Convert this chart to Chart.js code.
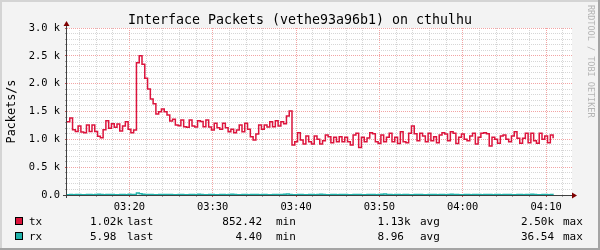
<!DOCTYPE html>
<html><head><meta charset="utf-8">
<script src="https://cdn.jsdelivr.net/npm/chart.js@4/dist/chart.umd.min.js"></script>
<style>html,body{margin:0;padding:0;background:#f3f3f3;overflow:hidden}canvas{display:block}</style>
</head><body>
<canvas id="c" width="600" height="250"></canvas>
<script>
// ---- data ----
const chartTitle = 'Interface Packets (vethe93a96b1) on cthulhu';
const yUnitLabel = 'Packets/s';
const watermarkText = 'RRDTOOL / TOBI OETIKER';
const startTime = 11551;   // seconds after midnight (03:12:31)
const endTime = 15187;     // right edge of the graph
const stepSeconds = 20;
const txValues = [
 1316,1385,1170,1140,1240,1130,1120,1258,1140,1257,1140,1055,1030,1170,1334,1198,1280,1216,1275,1149,1240,1316,1180,1119,1167,
 2376,2500,2350,2096,1904,1724,1640,
 1455,1496,1545,1496,1437,1329,1360,1257,1245,1347,1227,1215,1347,1240,1221,1335,1320,1227,1347,1221,1167,1288,1209,1180,1288,1209,1137,
 1180,1119,1167,1257,1137,1288,1180,1047,988,1096,1257,1180,1257,1221,1316,1227,1335,1240,1316,1280,1419,1509,
 898,957,1119,988,916,1060,957,916,1060,
 1000,916,975,1078,1045,940,1036,957,1045,957,1036,957,898,1078,1108,852,1036,957,1025,1119,1100,957,926,1078,957,1036,1108,957,1036,926,1137,
 957,940,1108,1240,1100,975,1108,1060,957,1108,975,1048,940,1078,1119,1096,975,1137,1108,926,1036,1096,1000,975,1060,1108,916,1036,1108,1119,1100,
 880,1036,1000,928,1060,1078,1000,957,1060,1137,1018,928,1018,1108,940,1108,975,928,1108,1000,1060,940,1078,1020
];
const rxValues = [
 6.2,8.1,5.4,7.9,9.8,6.5,5.1,8.8,7.2,6.0,
 9.4,12.5,7.7,5.8,6.9,8.3,10.2,6.4,5.5,7.8,
 9.1,6.6,14.8,8.2,7.0,36.5,22.4,11.3,9.6,7.4,
 8.8,6.1,5.2,9.9,7.3,6.8,8.4,10.7,6.3,5.9,
 7.5,9.2,6.7,5.4,8.6,7.1,6.2,11.8,8.0,6.5,
 5.7,7.9,9.3,6.0,5.3,8.7,7.4,6.6,9.8,12.1,
 7.2,5.8,6.4,8.9,7.6,5.5,6.9,10.4,8.1,6.3,
 7.7,9.0,6.1,5.6,8.2,7.3,6.8,9.5,13.2,18.7,
 8.4,6.0,5.1,7.8,9.7,6.4,5.9,8.3,7.0,6.2,
 9.6,11.4,7.3,5.7,6.5,8.8,7.1,4.4,6.9,9.2,
 8.0,6.3,5.8,7.4,10.1,8.5,6.7,5.6,7.9,9.3,
 6.8,5.4,8.6,12.9,16.3,9.1,7.2,6.1,8.3,7.5,
 6.4,9.9,8.7,5.9,6.6,7.8,10.6,8.2,6.0,5.5,
 7.6,9.4,6.9,5.2,8.1,7.0,6.3,9.7,14.1,10.3,
 7.4,6.2,5.6,8.9,7.7,6.5,9.0,11.2,7.3,5.9,
 6.8,8.4,7.1,5.7,9.5,8.0,6.6,7.9,10.8,8.6,
 6.1,5.8,7.5,9.1,6.4,8.2,7.0,12.4,9.3,6.7,
 5.9,7.2,8.5,6.3,7.6,5.98
];
const xTickValues = [12000,12600,13200,13800,14400,15000];
const xTickLabels = ['03:20','03:30','03:40','03:50','04:00','04:10'];
const xMinorStep = 120;
const yTickValues = [0,500,1000,1500,2000,2500,3000];
const yTickLabels = ['0.0','0.5 k','1.0 k','1.5 k','2.0 k','2.5 k','3.0 k'];
const yMinorStep = 100;
const seriesNames = ['tx','rx'];
const seriesColors = ['#DC143C','#20B2AA'];
const legendLast = ['1.02k','5.98'];
const legendMin = ['852.42','4.40'];
const legendAvg = ['1.13k','8.96'];
const legendMax = ['2.50k','36.54'];

// ---- chart ----
const MONO = '"DejaVu Sans Mono", monospace';
const MAJOR = '#f2a4a4', MINOR = '#d6d6d6';
const toPoints = vals => vals.map((v,i)=>({x:startTime+i*stepSeconds, y:v}));

const rrdPlugin = {
  id:'rrd',
  beforeDraw(chart){
    const {ctx, chartArea:a, width, height} = chart;
    ctx.save();
    ctx.fillStyle='#f3f3f3'; ctx.fillRect(0,0,width,height);
    ctx.fillStyle='#ffffff'; ctx.fillRect(a.left,a.top,a.right-a.left,a.bottom-a.top);
    ctx.fillStyle='#d4d4d4'; ctx.fillRect(0,0,width,2); ctx.fillRect(0,0,2,height);
    ctx.fillStyle='#a4a4a4'; ctx.fillRect(0,height-2,width,2); ctx.fillRect(width-2,0,2,height);
    ctx.restore();
  },
  afterDraw(chart){
    const {ctx, chartArea:a} = chart;
    ctx.save();
    // axes
    ctx.strokeStyle='#404040'; ctx.lineWidth=1;
    ctx.beginPath();
    ctx.moveTo(a.left-0.5, a.bottom+3); ctx.lineTo(a.left-0.5, a.top-3);
    ctx.moveTo(a.left-4, a.bottom+0.5); ctx.lineTo(a.right+1, a.bottom+0.5);
    ctx.stroke();
    ctx.fillStyle='#7f0000';
    ctx.beginPath();
    ctx.moveTo(a.left-0.5, a.top-7); ctx.lineTo(a.left-3.5, a.top-2); ctx.lineTo(a.left+2.5, a.top-2); ctx.closePath(); ctx.fill();
    ctx.beginPath();
    ctx.moveTo(a.right+5, a.bottom+0.5); ctx.lineTo(a.right, a.bottom-2.5); ctx.lineTo(a.right, a.bottom+3.5); ctx.closePath(); ctx.fill();
    // title
    ctx.fillStyle='#000';
    ctx.font='13.3px '+MONO; ctx.textAlign='center'; ctx.textBaseline='alphabetic';
    ctx.fillText(chartTitle, 300, 24);
    // y unit
    ctx.save();
    ctx.translate(15, (a.top+a.bottom)/2); ctx.rotate(-Math.PI/2);
    ctx.font='11.8px '+MONO; ctx.textAlign='center';
    ctx.fillText(yUnitLabel, 0, 0);
    ctx.restore();
    // watermark
    ctx.save();
    ctx.translate(588, 5); ctx.rotate(Math.PI/2);
    ctx.font='8.5px '+MONO; ctx.textAlign='left'; ctx.fillStyle='#b4b4b4';
    ctx.fillText(watermarkText, 0, 0);
    ctx.restore();
    // legend
    ctx.font='11px '+MONO; ctx.textAlign='left';
    const base=[225.3,240.3], boxTop=[217,232];
    for(let i=0;i<seriesNames.length;i++){
      ctx.fillStyle=seriesColors[i]; ctx.fillRect(15,boxTop[i],8,8);
      ctx.strokeStyle='#000'; ctx.lineWidth=1; ctx.strokeRect(15.5,boxTop[i]+0.5,7,7);
      ctx.fillStyle='#000';
      ctx.textAlign='left';
      ctx.fillText(seriesNames[i], 29, base[i]);
      ctx.fillText(legendLast[i], 90, base[i]);  ctx.fillText('last', 127, base[i]);
      ctx.textAlign='right';
      ctx.fillText(legendMin[i], 262, base[i]);
      ctx.textAlign='left';
      ctx.fillText('min', 276, base[i]);
      ctx.fillText(legendAvg[i], 377.5, base[i]); ctx.fillText('avg', 420, base[i]);
      ctx.fillText(legendMax[i], 521, base[i]); ctx.fillText('max', 563, base[i]);
    }
    ctx.restore();
  }
};

const minorTicks = (step)=> (s)=>{
  const t=[]; for(let v=Math.ceil(s.min/step)*step; v<=s.max; v+=step) t.push({value:v}); s.ticks=t;
};

new Chart(document.getElementById('c'), {
  type:'line',
  data:{datasets:[
    {label:seriesNames[0], data:toPoints(txValues), borderColor:seriesColors[0], borderWidth:1.5, pointRadius:0, stepped:'before', fill:false, order:2},
    {label:seriesNames[1], data:toPoints(rxValues), borderColor:seriesColors[1], borderWidth:1.5, pointRadius:0, stepped:'before', fill:false, order:1}
  ]},
  options:{
    responsive:false, animation:false, devicePixelRatio:1,
    layout:{padding:{top:28,right:28,left:0,bottom:0}},
    plugins:{legend:{display:false}, tooltip:{enabled:false}, title:{display:false}},
    scales:{
      x:{type:'linear', min:startTime, max:endTime,
         afterBuildTicks:minorTicks(xMinorStep),
         afterFit:(s)=>{s.height=55;},
         grid:{color:c=>xTickValues.includes(c.tick.value)?MAJOR:MINOR, lineWidth:1, drawTicks:true, tickLength:2,
               tickColor:c=>xTickValues.includes(c.tick.value)?'#c05050':'#a0a0a0'},
         border:{display:false, dash:[1,1]},
         ticks:{autoSkip:false, maxRotation:0, minRotation:0, padding:4, color:'#000',
                font:{family:'DejaVu Sans Mono', size:10.4},
                callback:(v)=>{const k=xTickValues.indexOf(v); return k>=0?xTickLabels[k]:'';}}},
      y:{type:'linear', min:0, max:3000,
         afterBuildTicks:minorTicks(yMinorStep),
         afterFit:(s)=>{s.width=67;},
         grid:{color:c=>yTickValues.includes(c.tick.value)?MAJOR:MINOR, lineWidth:1, drawTicks:true, tickLength:2,
               tickColor:c=>yTickValues.includes(c.tick.value)?'#c05050':'#a0a0a0'},
         border:{display:false, dash:[1,1]},
         ticks:{autoSkip:false, padding:5, color:'#000',
                font:{family:'DejaVu Sans Mono', size:10.4},
                callback:(v)=>{const k=yTickValues.indexOf(v); return k>=0?yTickLabels[k]:'';}}}
    }
  },
  plugins:[rrdPlugin]
});
</script>
</body></html>
